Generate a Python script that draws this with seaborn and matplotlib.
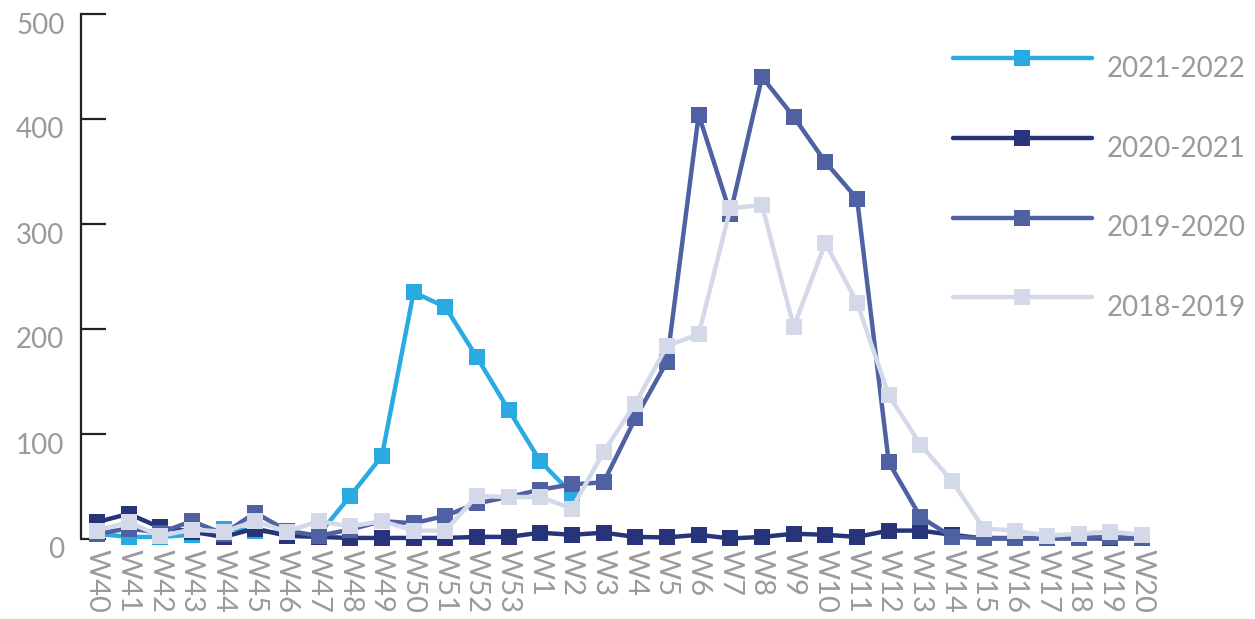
import numpy as np
import pandas as pd
import matplotlib
matplotlib.use("Agg")
import matplotlib.pyplot as plt
from matplotlib.transforms import ScaledTranslation
import seaborn as sns

# Weekly counts per season, weeks W40..W53 then W1..W20
weeks = [f"W{w}" for w in range(40, 54)] + [f"W{w}" for w in range(1, 21)]

s2021_2022 = [5, 2, 2, 4, 10, 8, 5, 4, 41, 79, 235, 221, 173, 123, 74, 43] + [np.nan] * 18
s2020_2021 = [16, 24, 11, 7, 2, 10, 3, 2, 1, 1, 1, 1, 2, 2, 6, 4, 6, 2, 1.5, 4,
              0.5, 2, 5, 4, 2, 8, 8, 4, 0.5, 0.5, 0.5, 0.5, 0.5, 0.5]
s2019_2020 = [5, 10, 6, 17, 5, 25, 8, 3, 9, 17, 15, 22, 34, 40, 47, 52, 54, 115, 169, 404,
              310, 440, 402, 359, 324, 73, 21, 2, 1, 1, 1, 1, 2, 0.5]
s2018_2019 = [8, 16, 3, 9, 7, 17, 7, 17, 12, 17, 8, 8, 41, 40, 40, 29, 83, 129, 184, 195,
              315, 318, 202, 282, 225, 137, 90, 55, 10, 8, 3, 5, 7, 4]

seasons = ["2021-2022", "2020-2021", "2019-2020", "2018-2019"]
series = [s2021_2022, s2020_2021, s2019_2020, s2018_2019]
colors = ["#29ABE2", "#283479", "#4F61A2", "#D4D9EA"]

df = pd.concat(
    [pd.DataFrame({"pos": np.arange(len(weeks)), "week": weeks, "value": vals, "season": name})
     for name, vals in zip(seasons, series)],
    ignore_index=True,
)

sns.set_theme(style="white")
plt.rcParams["font.family"] = ["Lato", "DejaVu Sans"]
TEXT_GRAY = "#9a9a9a"
TEXT_WEIGHT = "normal"

fig = plt.figure(figsize=(12.55, 6.19), dpi=100)
ax = fig.add_axes([81 / 1255, 80 / 619, 1077 / 1255, 525 / 619])

sns.lineplot(
    data=df.dropna(), x="pos", y="value", hue="season", hue_order=seasons,
    palette=colors, style="season", markers=["s"] * 4, dashes=False,
    estimator=None, linewidth=3.2, markersize=11, markeredgewidth=0,
    clip_on=False, ax=ax, legend=True,
)

ax.set_xlim(-0.5, len(weeks) - 0.5)
ax.set_ylim(0, 500)
ax.set_xlabel("")
ax.set_ylabel("")

ax.set_xticks(np.arange(len(weeks)))
ax.set_xticklabels(weeks, rotation=-90, va="top", ha="center",
                   fontsize=21, color=TEXT_GRAY, fontweight=TEXT_WEIGHT)
ax.tick_params(axis="x", bottom=False, length=0, pad=7)

ax.set_yticks(np.arange(0, 501, 100))
ax.set_yticklabels([str(v) for v in range(0, 501, 100)],
                   fontsize=20, color=TEXT_GRAY, fontweight=TEXT_WEIGHT)
ax.tick_params(axis="y", left=True, direction="in", length=18, width=1.6,
               color="#222222", pad=12)
for lbl in ax.get_yticklabels():
    lbl.set_transform(lbl.get_transform() + ScaledTranslation(0, -0.09, fig.dpi_scale_trans))

for side in ["top", "right", "bottom"]:
    ax.spines[side].set_visible(False)
ax.spines["left"].set_color("#222222")
ax.spines["left"].set_linewidth(1.6)

handles, labels = ax.get_legend_handles_labels()
leg = ax.legend(
    handles, labels, loc="upper left",
    bbox_to_anchor=(953 / 1255, 1 - 47 / 619), bbox_transform=fig.transFigure,
    frameon=False, fontsize=20, handlelength=5.0, handletextpad=0.55,
    labelspacing=1.93, borderpad=0, borderaxespad=0, numpoints=1,
)
for t in leg.get_texts():
    t.set_color(TEXT_GRAY)
    t.set_fontweight(TEXT_WEIGHT)
    t.set_position((0, -9))
for h in leg.legend_handles:
    h.set_solid_capstyle("round")

fig.savefig("out.png", dpi=100)
